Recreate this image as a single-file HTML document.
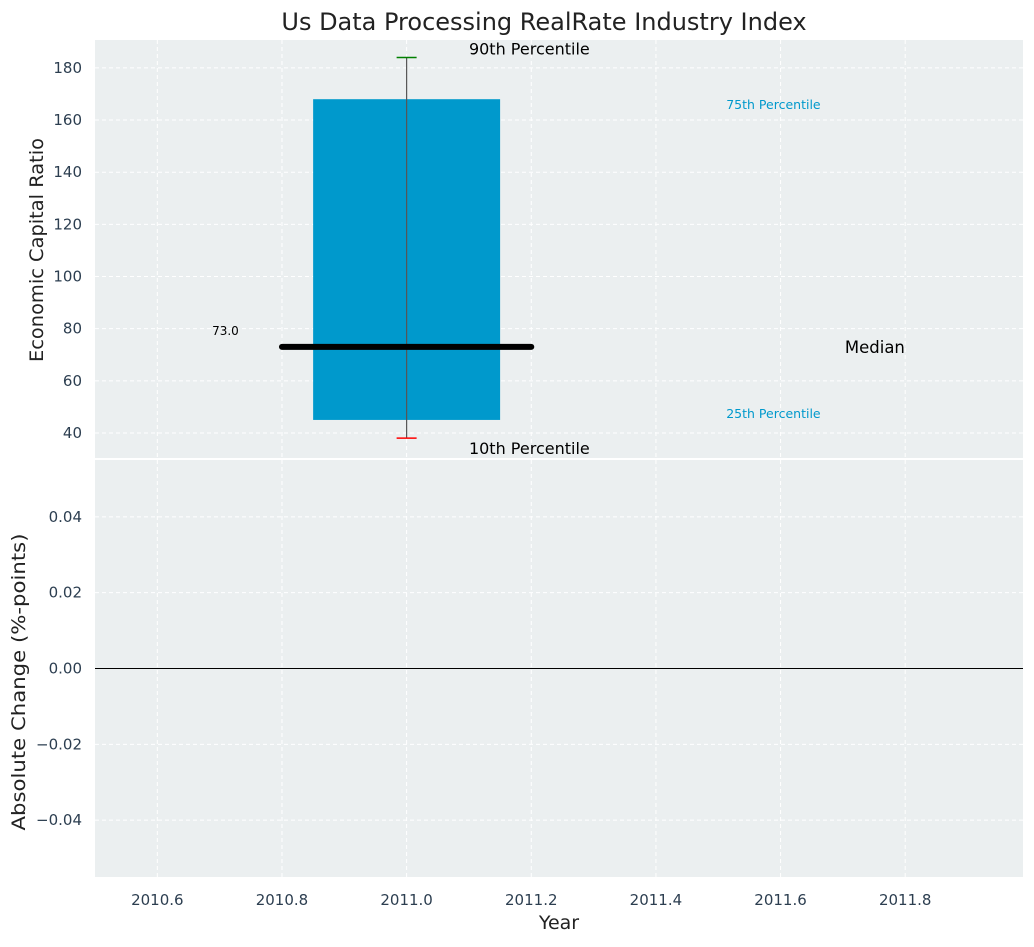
<!DOCTYPE html>
<html><head><meta charset="utf-8"><style>
body{margin:0;background:#fff;font-family:"Liberation Sans","DejaVu Sans",sans-serif}
text{font-family:"DejaVu Sans","Liberation Sans",sans-serif}
</style></head><body>
<svg id="chart" width="1034" height="942" xmlns="http://www.w3.org/2000/svg">
<text x="544" y="30" font-size="24" text-anchor="middle" fill="#222">Us Data Processing RealRate Industry Index</text>
<g id="topPanel"></g>
<g id="botPanel"></g>
</svg>
<script>
const xTicks=[2010.6,2010.8,2011.0,2011.2,2011.4,2011.6,2011.8];
const topTicks=[40,60,80,100,120,140,160,180];
const botTicks=[-0.04,-0.02,0.00,0.02,0.04];
const years=[2011.0];
const p10=[38],p25=[45],median=[73],p75=[168],p90=[184];
const changes=[0];
const NS="http://www.w3.org/2000/svg";
const svg=document.getElementById('chart');
function el(t,a,p){const e=document.createElementNS(NS,t);for(const k in a)e.setAttribute(k,a[k]);(p||svg).appendChild(e);return e;}
const X0=95,X1=1023;
const sx=v=>X0+(v-2010.5)/(2011.989-2010.5)*(X1-X0);
const T0=40,T1=458,B0=460,B1=877;
const sy=v=>T1-(v-30.4)/(190.7-30.4)*(T1-T0);
const by=v=>B1-(v+0.055)/0.11*(B1-B0);
const topG=document.getElementById('topPanel'),botG=document.getElementById('botPanel');
let r=el('rect',{x:X0,y:T0,width:X1-X0,height:T1-T0,fill:'#ebeff0'},topG);

r=el('rect',{x:X0,y:B0,width:X1-X0,height:B1-B0,fill:'#ebeff0'},botG);

xTicks.forEach(t=>{
 el('line',{x1:sx(t),x2:sx(t),y1:T0,y2:T1,stroke:'#fff','stroke-dasharray':'4,3','stroke-width':1},topG);
 el('line',{x1:sx(t),x2:sx(t),y1:B0,y2:B1,stroke:'#fff','stroke-dasharray':'4,3','stroke-width':1},botG);
 const tx=el('text',{x:sx(t),y:905,'font-size':15,'text-anchor':'middle',fill:'#2c3e50'});tx.textContent=t.toFixed(1);
 
});
topTicks.forEach(t=>{
 el('line',{x1:X0,x2:X1,y1:sy(t),y2:sy(t),stroke:'#fff','stroke-dasharray':'4,3'},topG);
 const tx=el('text',{x:82,y:sy(t)+5,'font-size':15,'text-anchor':'end',fill:'#2c3e50'});tx.textContent=t;
 
});
botTicks.forEach(t=>{
 el('line',{x1:X0,x2:X1,y1:by(t),y2:by(t),stroke:'#fff','stroke-dasharray':'4,3'},botG);
 const tx=el('text',{x:82,y:by(t)+5,'font-size':15,'text-anchor':'end',fill:'#2c3e50'});tx.textContent=(t<0?'\u2212':'')+Math.abs(t).toFixed(2);
 
});
years.forEach((y,i)=>{
 const b=el('rect',{x:sx(y-0.15),y:sy(p75[i]),width:sx(y+0.15)-sx(y-0.15),height:sy(p25[i])-sy(p75[i]),fill:'#0099cc'},topG);
 
 const w=el('line',{x1:sx(y),x2:sx(y),y1:sy(p90[i]),y2:sy(p10[i]),stroke:'#555','stroke-width':1.2},topG);
 
 const h=el('line',{x1:sx(y)-10,x2:sx(y)+10,y1:sy(p90[i]),y2:sy(p90[i]),stroke:'green','stroke-width':1.5},topG);
 
 const l=el('line',{x1:sx(y)-10,x2:sx(y)+10,y1:sy(p10[i]),y2:sy(p10[i]),stroke:'red','stroke-width':1.5},topG);
 
 const m=el('line',{x1:sx(y-0.2),x2:sx(y+0.2),y1:sy(median[i]),y2:sy(median[i]),stroke:'#000','stroke-width':6,'stroke-linecap':'round'},topG);
 
 const mv=el('text',{x:sx(y-0.25)-12,y:sy(median[i])-12,'font-size':12,'text-anchor':'end',fill:'#000'},topG);mv.textContent=median[i].toFixed(1);
 
 const lab=(t,x,yy,fs,c,n)=>{const e=el('text',{x:x,y:yy,'font-size':fs,fill:c},topG);e.textContent=t;};
 lab('90th Percentile',sx(y+0.1),sy(p90[i])-3,16,'#000','p90-label');
 lab('10th Percentile',sx(y+0.1),sy(p10[i])+16,16,'#000','p10-label');
 lab('75th Percentile',sx(y+0.5)+8,sy(p75[i])+10,12.5,'#0099cc','p75-label');
 lab('25th Percentile',sx(y+0.5)+8,sy(p25[i])-2,12.5,'#0099cc','p25-label');
 lab('Median',sx(y+0.7)+2,sy(median[i])+6,16.5,'#000','median-label');
});
const z=el('line',{x1:X0,x2:X1,y1:by(changes[0]),y2:by(changes[0]),stroke:'#000','stroke-width':1},botG);

let t=el('text',{x:559,y:929,'font-size':19,'text-anchor':'middle',fill:'#222'});t.textContent='Year';

t=el('text',{x:0,y:0,'font-size':19,'text-anchor':'middle',fill:'#222',textLength:224,lengthAdjust:'spacingAndGlyphs',transform:'translate(43,250) rotate(-90)'});t.textContent='Economic Capital Ratio';

t=el('text',{x:0,y:0,'font-size':19,'text-anchor':'middle',fill:'#222',textLength:297,lengthAdjust:'spacingAndGlyphs',transform:'translate(25,682) rotate(-90)'});t.textContent='Absolute Change (%-points)';

</script>
</body></html>
